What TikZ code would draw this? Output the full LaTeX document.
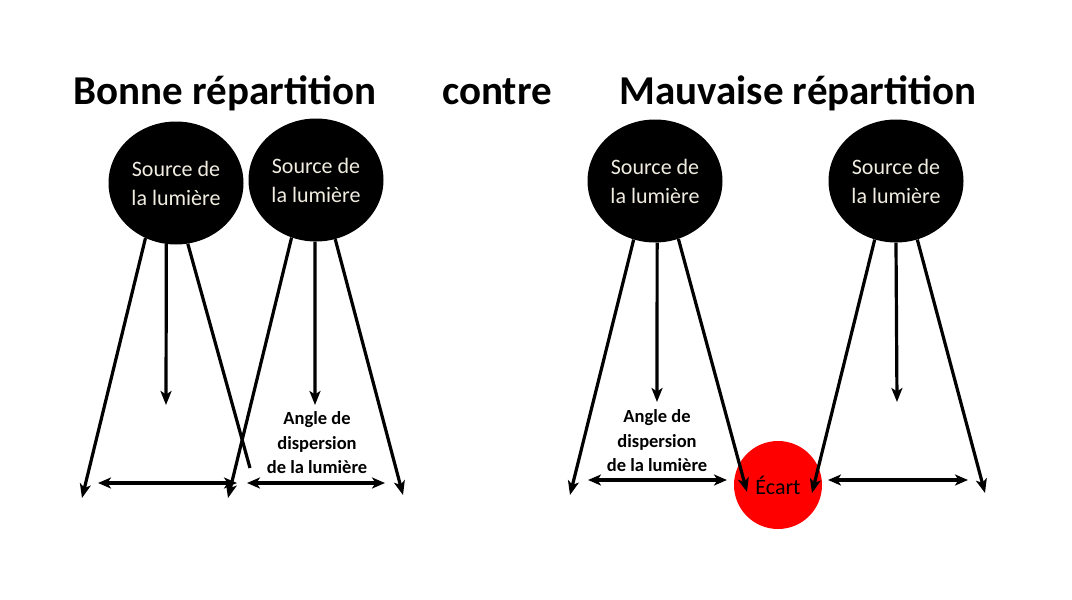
\documentclass[tikz,border=0pt]{standalone}
\usepackage{fontspec}
\setmainfont{Carlito}
\usetikzlibrary{arrows.meta,shapes.geometric}
\definecolor{lightcream}{RGB}{240,236,224}
\definecolor{gapred}{RGB}{255,0,0}

\tikzset{
    source/.style={ellipse, fill=black, text=lightcream, minimum width=135pt,
        minimum height=123pt, inner sep=0pt, align=center,
        font=\fontsize{22}{29}\selectfont},
    gap/.style={circle, fill=gapred, minimum size=88pt, inner sep=0pt,
        font=\fontsize{22}{25}\selectfont},
    ray/.style={line width=3.2pt, -{Stealth[length=14pt,width=11pt,inset=3.5pt]}},
    plainray/.style={line width=3.2pt},
    span/.style={line width=3.2pt,
        {Stealth[length=13pt,width=11pt,inset=3.5pt]}-{Stealth[length=13pt,width=11pt,inset=3.5pt]}},
    title/.style={font=\fontsize{41}{49}\selectfont\bfseries, anchor=base},
    anglelabel/.style={align=center, font=\fontsize{18.5}{24.5}\selectfont\bfseries}
}

\begin{document}
\begin{tikzpicture}[x=1pt, y=-1pt]
        \useasboundingbox (0, 0) rectangle (1072, 600);

        % titles
        \node[title] (good) at (225, 104) {Bonne répartition};
        \node[title] (versus) at (497, 104) {contre};
        \node[title] (bad) at (798, 104) {Mauvaise répartition};

        % light sources
        \node[source] (src1) at (176, 183) {Source de\\la lumière};
        \node[source] (src2) at (316, 180) {Source de\\la lumière};
        \node[source] (src3) at (655, 181) {Source de\\la lumière};
        \node[source] (src4) at (896, 181) {Source de\\la lumière};

        \node[gap] (ecart) at (778, 485) {Écart};

        % ray ends
        \coordinate (l1) at (82, 498);
        \coordinate (m1) at (166, 405);
        \coordinate (r1) at (250, 468);
        \coordinate (l2) at (228, 498);
        \coordinate (m2) at (315, 405);
        \coordinate (r2) at (403, 495);
        \coordinate (l3) at (570, 495);
        \coordinate (m3) at (657, 402);
        \coordinate (r3) at (747, 492);
        \coordinate (l4) at (812, 493);
        \coordinate (m4) at (897, 402);
        \coordinate (r4) at (985, 493);

        \foreach \s/\a/\e in {src1/241/l1, src1/261/m1, src2/247/l2, src2/269/m2,
                src2/288/r2, src3/250/l3, src3/272/m3, src3/292/r3,
                src4/250/l4, src4/270/m4, src4/290/r4}{
                \draw[ray] (\s.\a) to (\e);
            }
        \draw[plainray] (src1.281) to (r1);

        % spread of each source
        \coordinate (a1) at (98, 483);
        \coordinate (b1) at (237, 483);
        \coordinate (a2) at (247, 483);
        \coordinate (b2) at (385, 483);
        \coordinate (a3) at (588, 480);
        \coordinate (b3) at (727, 480);
        \coordinate (a4) at (828, 480);
        \coordinate (b4) at (968, 480);

        \foreach \i in {1, ..., 4}{
                \draw[span] (a\i) to (b\i);
            }

        \node[anglelabel] (angle2) at (317, 443) {Angle de\\dispersion\\de la lumière};
        \node[anglelabel] (angle3) at (657, 441) {Angle de\\dispersion\\de la lumière};
    \end{tikzpicture}
\end{document}
